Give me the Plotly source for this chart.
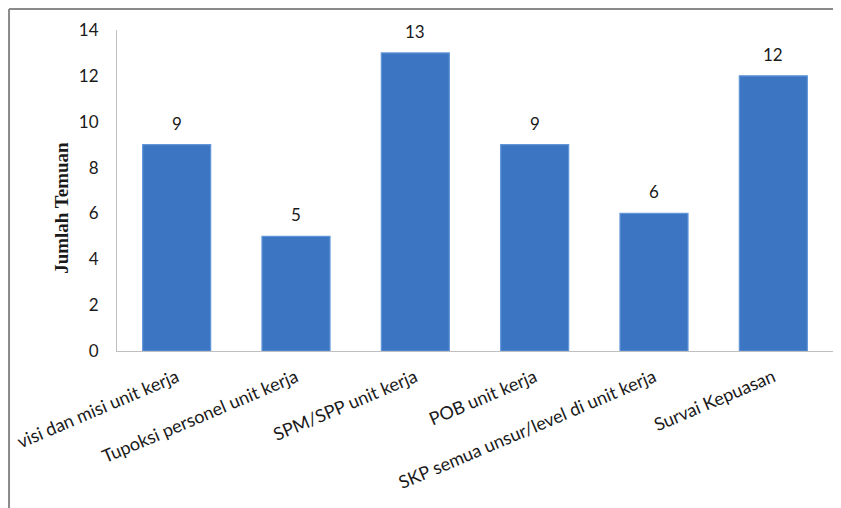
import plotly.graph_objects as go

categories = ["visi dan misi unit kerja", "Tupoksi personel unit kerja", "SPM/SPP unit kerja",
              "POB unit kerja", "SKP semua unsur/level di unit kerja", "Survai Kepuasan"]
values = [9, 5, 13, 9, 6, 12]
y_ticks = [0, 2, 4, 6, 8, 10, 12, 14]

FONT = "Lato, Open Sans, sans-serif"
TXT = "#1a1a1a"

fig = go.Figure()
fig.add_trace(go.Bar(
    x=categories, y=values,
    marker=dict(color="#3c75c1", line=dict(color="#6196d8", width=1.2)),
    hoverinfo="x+y",
))

annotations = [
    dict(x=c, y=v, xref="x", yref="y", text=str(v), showarrow=False,
         yanchor="bottom", yshift=9, font=dict(family=FONT, size=17, color=TXT))
    for c, v in zip(categories, values)
]
annotations.append(dict(
    x=-0.077, y=0.4455, xref="paper", yref="paper", text="<b>Jumlah Temuan</b>",
    showarrow=False, textangle=-90, xanchor="center", yanchor="middle",
    font=dict(family="Liberation Serif, Times New Roman, serif", size=19, color=TXT)))

fig.update_layout(
    width=841, height=508,
    margin=dict(l=109, r=16, t=22, b=165, autoexpand=False),
    paper_bgcolor="white", plot_bgcolor="white",
    bargap=0.43, showlegend=False,
    font=dict(family=FONT, size=17, color=TXT),
    xaxis=dict(showline=True, linecolor="#bfbfbf", linewidth=1, tickangle=-23,
               showgrid=False, ticks="", ticklabelstandoff=8, automargin=False,
               tickfont=dict(size=18, color=TXT)),
    yaxis=dict(range=[0, 14], tickvals=y_ticks, showline=True, linecolor="#bfbfbf",
               linewidth=1, showgrid=False, zeroline=False, ticks="", automargin=False,
               ticklabelstandoff=14, tickfont=dict(size=17, color=TXT)),
    annotations=annotations,
    shapes=[
        dict(type="line", xref="paper", yref="paper", x0=-0.1508, x1=-0.1508, y0=-0.6, y1=1.0654,
             line=dict(color="#8a8a8a", width=2)),
        dict(type="line", xref="paper", yref="paper", x0=-0.1508, x1=1.05, y0=1.0654, y1=1.0654,
             line=dict(color="#8a8a8a", width=2)),
    ],
)

fig.write_html("out.html")
